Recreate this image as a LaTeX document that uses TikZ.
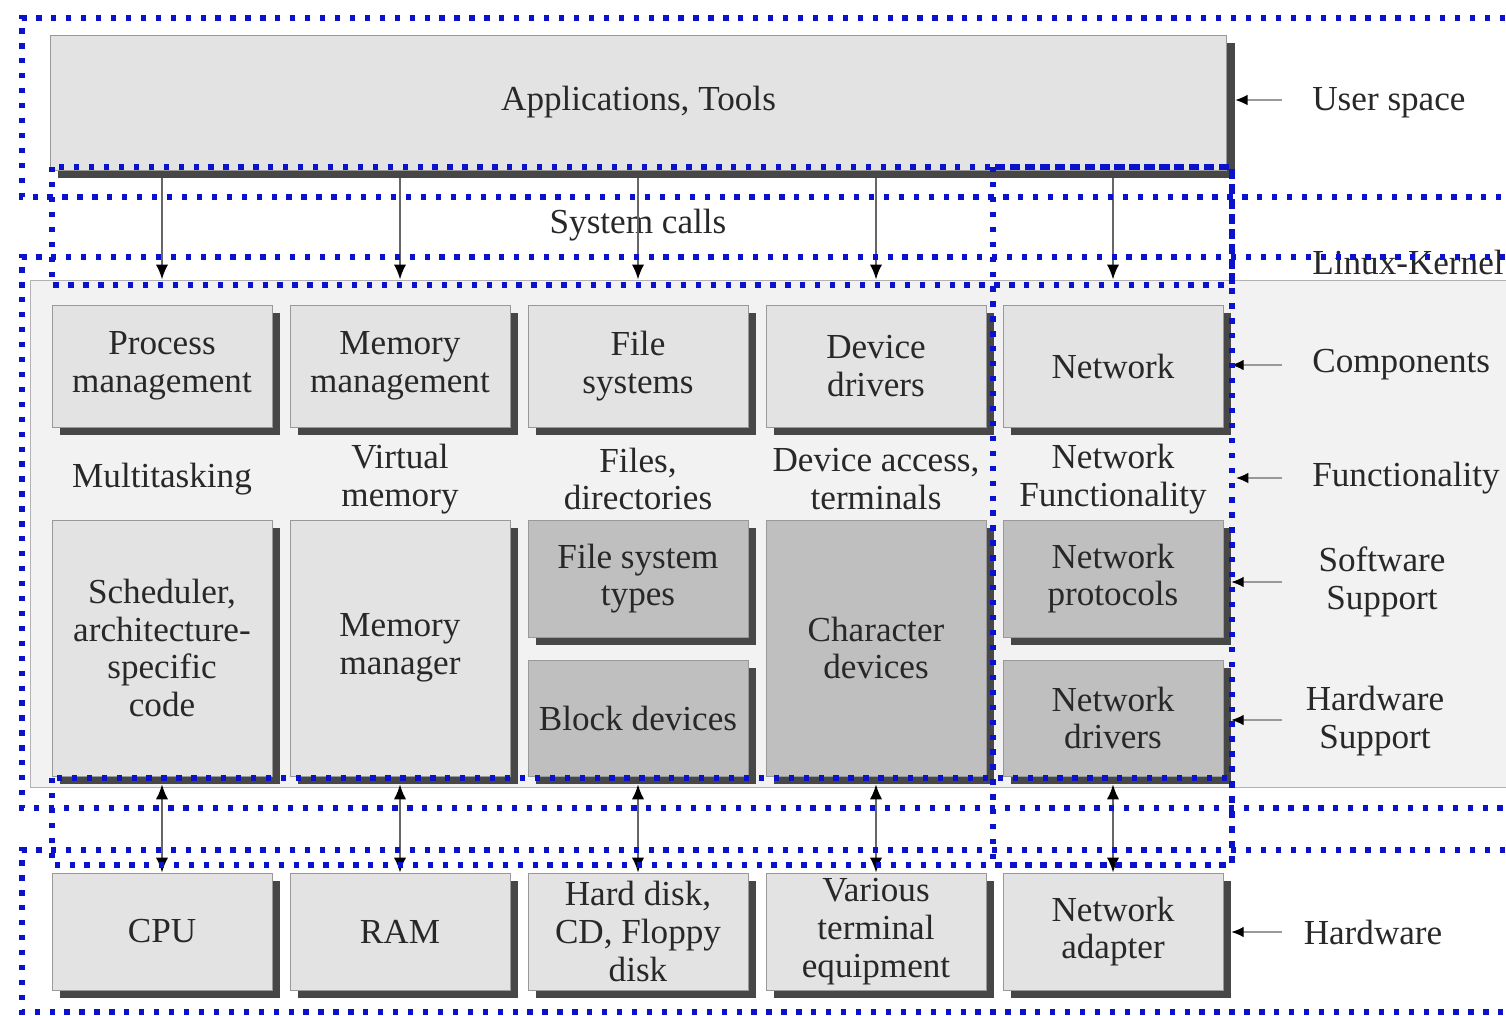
\documentclass[tikz,border=0pt]{standalone}
\usepackage{fontspec}
\setmainfont{Liberation Serif}
\usetikzlibrary{arrows.meta,shadows}
\definecolor{dotblue}{RGB}{10,18,205}
\definecolor{txt}{RGB}{40,40,40}
\begin{document}
\begin{tikzpicture}[x=0.02cm,y=-0.02cm,
  every node/.style={font=\fontsize{20}{21.5}\selectfont, text=txt, align=center, inner sep=0pt},
  box/.style={draw=black!40, line width=0.5pt, fill=black!11, minimum width=4.4cm,
    drop shadow={shadow xshift=4.5pt, shadow yshift=-4.5pt, fill=black!72, opacity=1}},
  darkbox/.style={box, fill=black!25},
  panel/.style={draw=black!30, line width=0.6pt, fill=black!5},
  arr/.style={draw=black!60, line width=1.1pt, -{Latex[length=8.5pt,width=7pt,color=black]}},
  darr/.style={draw=black!60, line width=1.1pt, {Latex[length=8.5pt,width=7pt,color=black]}-{Latex[length=8.5pt,width=7pt,color=black]}},
  side/.style={draw=black!40, line width=0.7pt, -{Latex[length=7pt,width=6pt,color=black]}},
  bluedot/.style={draw=dotblue, line width=3.2pt, line cap=butt, dash pattern=on 3pt off 5.5pt}
]
\useasboundingbox (0,0) rectangle (1506,1015);
\clip (0,0) rectangle (1506,1015);
\fill[white] (0,0) rectangle (1506,1015);

% kernel background panel
\node[panel, minimum width=29.6cm, minimum height=10.16cm] (kernel) at (770,534) {};

% user space
\node[box, minimum width=23.54cm, minimum height=2.7cm] (app) at (638.5,102.5) {Applications, Tools};
\node (sys) at (638,225) {System calls};

% components row
\node[box, minimum height=2.44cm] (pm) at (162,366) {Process\\management};
\node[box, minimum height=2.44cm] (mm) at (400,366) {Memory\\management};
\node[box, minimum height=2.44cm] (fs) at (638,366) {File\\systems};
\node[box, minimum height=2.44cm] (dd) at (876,366) {Device\\drivers};
\node[box, minimum height=2.44cm] (net) at (1113,366) {Network};

% functionality row
\node (f1) at (162,479) {Multitasking};
\node (f2) at (400,479) {Virtual\\memory};
\node (f3) at (638,479) {Files,\\directories};
\node (f4) at (876,479) {Device access,\\terminals};
\node (f5) at (1113,479) {Network\\Functionality};

% support row
\node[box, minimum height=5.12cm] (sch) at (162,648) {Scheduler,\\architecture-\\specific\\code};
\node[box, minimum height=5.12cm] (mgr) at (400,648) {Memory\\manager};
\node[darkbox, minimum height=2.34cm] (fst) at (638,578.5) {File system\\types};
\node[darkbox, minimum height=2.32cm] (bd) at (638,718) {Block devices};
\node[darkbox, minimum height=5.12cm] (cd) at (876,648) {Character\\devices};
\node[darkbox, minimum height=2.34cm] (np) at (1113,578.5) {Network\\protocols};
\node[darkbox, minimum height=2.32cm] (nd) at (1113,718) {Network\\drivers};

% hardware row
\node[box, minimum height=2.34cm] (cpu) at (162,931.5) {CPU};
\node[box, minimum height=2.34cm] (ram) at (400,931.5) {RAM};
\node[box, minimum height=2.34cm] (hd) at (638,931.5) {Hard disk,\\CD, Floppy\\disk};
\node[box, minimum height=2.34cm] (vt) at (876,931.5) {Various\\terminal\\equipment};
\node[box, minimum height=2.34cm] (na) at (1113,931.5) {Network\\adapter};

% system call arrows
\foreach \c in {pm,mm,fs,dd,net}
  \draw[arr] ([yshift=-4.5pt]app.south -| \c.north) -- (kernel.north -| \c.north);

% hardware arrows
\draw[darr] ([yshift=-4.5pt]sch.south) -- (cpu.north);
\draw[darr] ([yshift=-4.5pt]mgr.south) -- (ram.north);
\draw[darr] ([yshift=-4.5pt]bd.south) -- (hd.north);
\draw[darr] ([yshift=-4.5pt]cd.south) -- (vt.north);
\draw[darr] ([yshift=-4.5pt]nd.south) -- (na.north);

% right labels
\node[anchor=west] (lus) at (1312,103) {User space};
\node[anchor=west] (llk) at (1312,262) {Linux-Kernel};
\node[anchor=west] (lco) at (1312,365) {Components};
\node[anchor=west] (lfu) at (1312,478) {Functionality};
\node (lss) at (1382,582) {Software\\Support};
\node (lhs) at (1375,721) {Hardware\\Support};
\node (lhw) at (1373,932) {Hardware};

\coordinate (aU) at (1282,100);
\coordinate (aC) at (1282,365);
\coordinate (aF) at (1282,478);
\coordinate (aFt) at (1236,478);
\coordinate (aS) at (1282,582);
\coordinate (aH) at (1282,720);
\coordinate (aW) at (1282,932);
\draw[side] (aU) -- ([xshift=4.5pt]app.east |- aU);
\draw[side] (aC) -- ([xshift=4.5pt]net.east |- aC);
\draw[side] (aF) -- (aFt);
\draw[side] (aS) -- ([xshift=4.5pt]np.east |- aS);
\draw[side] (aH) -- ([xshift=4.5pt]nd.east |- aH);
\draw[side] (aW) -- ([xshift=4.5pt]na.east |- aW);

% blue dotted overlays
\draw[bluedot] (1520,18) -- (22,18) -- (22,197) -- (1520,197);
\draw[bluedot] (52,167) rectangle (1232,285);
\draw[bluedot] (1520,257) -- (22,257) -- (22,808) -- (1520,808);
\draw[bluedot] (52,778) rectangle (1232,865);
\draw[bluedot] (993,167) rectangle (1232,865);
\draw[bluedot] (1520,850) -- (22,850) -- (22,1012) -- (1520,1012);
\end{tikzpicture}
\end{document}
